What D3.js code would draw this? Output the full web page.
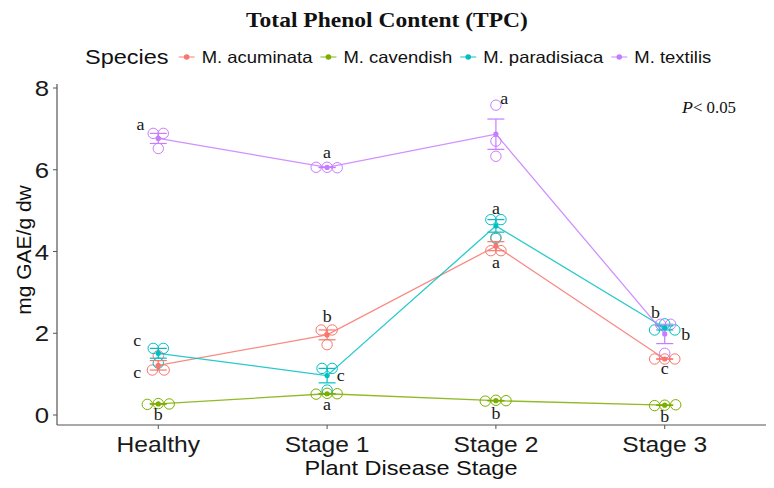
<!DOCTYPE html>
<html>
<head>
<meta charset="utf-8">
<script src="https://d3js.org/d3.v7.min.js"></script>
<style>
  body { margin: 0; background: #fff; }
</style>
</head>
<body>
<div id="chart"></div>
<script>

// categories
var stages = ["Healthy", "Stage 1", "Stage 2", "Stage 3"];
var species = ["M. acuminata", "M. cavendish", "M. paradisiaca", "M. textilis"];
var colors = ["#F8766D", "#7CAE00", "#00BFC4", "#C77CFF"];

// three replicates per stage (mg GAE/g dw)
var acuminata   = [[1.10, 1.10, 1.45], [2.08, 2.08, 1.72], [4.02, 4.02, 4.35], [1.37, 1.37, 1.37]];
var cavendish   = [[0.26, 0.28, 0.27], [0.51, 0.53, 0.52], [0.34, 0.36, 0.35], [0.23, 0.24, 0.25]];
var paradisiaca = [[1.63, 1.63, 1.27], [1.14, 1.14, 0.61], [4.78, 4.78, 4.32], [2.08, 2.08, 2.23]];
var textilis    = [[6.89, 6.89, 6.52], [6.06, 6.06, 6.05], [7.58, 6.70, 6.33], [2.22, 2.22, 1.51]];

// horizontal jitter of the replicate circles (fraction of a category step)
var acuminataJit   = [[-0.035, 0.035, 0], [-0.035, 0.03, 0], [-0.03, 0.03, 0], [-0.06, 0, 0.06]];
var cavendishJit   = [[-0.065, 0, 0.065], [-0.065, 0, 0.06], [-0.063, 0, 0.06], [-0.06, 0, 0.065]];
var paradisiacaJit = [[-0.03, 0.03, 0], [-0.03, 0.03, 0], [-0.03, 0.03, 0], [-0.06, 0.06, 0]];
var textilisJit    = [[-0.03, 0.03, 0], [-0.065, 0, 0.06], [0, 0, 0], [-0.025, 0.035, 0]];

// significance letters: species, stage, letter, y, x-nudge
var letters = [
  ["M. textilis", "Healthy", "a", 7.09, -0.105],
  ["M. paradisiaca", "Healthy", "c", 1.81, -0.125],
  ["M. acuminata", "Healthy", "c", 1.03, -0.125],
  ["M. cavendish", "Healthy", "b", 0.00, 0],
  ["M. textilis", "Stage 1", "a", 6.41, 0],
  ["M. acuminata", "Stage 1", "b", 2.40, 0],
  ["M. paradisiaca", "Stage 1", "c", 0.95, 0.08],
  ["M. cavendish", "Stage 1", "a", 0.24, 0],
  ["M. textilis", "Stage 2", "a", 7.74, 0.05],
  ["M. paradisiaca", "Stage 2", "a", 5.05, 0],
  ["M. acuminata", "Stage 2", "a", 3.72, 0],
  ["M. cavendish", "Stage 2", "b", 0.02, 0],
  ["M. paradisiaca", "Stage 3", "b", 2.50, -0.055],
  ["M. textilis", "Stage 3", "b", 1.96, 0.124],
  ["M. acuminata", "Stage 3", "c", 1.12, 0],
  ["M. cavendish", "Stage 3", "b", -0.04, 0]
];

var yTicks = [0, 2, 4, 6, 8];

var replicates = [acuminata, cavendish, paradisiaca, textilis];
var jitters = [acuminataJit, cavendishJit, paradisiacaJit, textilisJit];

var width = 774, height = 488;
var sx = 1.12; // the original is a bit stretched sideways
var sans = "Liberation Sans, Arial, sans-serif";
var serif = "Liberation Serif, Times New Roman, serif";

var svg = d3.select("#chart").append("svg")
    .attr("width", width).attr("height", height)
    .style("font-family", sans);

var x = d3.scalePoint().domain(stages).range([57, 766]).padding(0.6);
var y = d3.scaleLinear().domain([0, 8]).range([415, 88]);
var step = x.step();
var color = d3.scaleOrdinal().domain(species).range(colors);

function stext(g, px, py, str) {
  return g.append("text")
    .attr("transform", "translate(" + px + "," + py + ") scale(" + sx + ",1)")
    .text(str);
}

// summary per species & stage
var series = species.map(function(sp, i) {
  return {
    name: sp,
    values: stages.map(function(st, j) {
      var v = replicates[i][j];
      var m = d3.mean(v);
      var se = d3.deviation(v) / Math.sqrt(v.length);
      return { stage: st, mean: m, se: se,
        reps: v.map(function(r, k) { return { v: r, dx: jitters[i][j][k] }; }) };
    })
  };
});

// axes
var panelTop = 84, panelBottom = 425;
svg.append("line").attr("x1", 57).attr("x2", 57).attr("y1", panelTop).attr("y2", panelBottom)
  .attr("stroke", "#555").attr("stroke-width", 1.2);
svg.append("line").attr("x1", 57).attr("x2", 766).attr("y1", panelBottom).attr("y2", panelBottom)
  .attr("stroke", "#555").attr("stroke-width", 1.2);

var yt = svg.append("g");
yTicks.forEach(function(t) {
  yt.append("line").attr("x1", 53).attr("x2", 57).attr("y1", y(t)).attr("y2", y(t))
    .attr("stroke", "#555");
  stext(yt, 49, y(t), t).attr("text-anchor", "end").attr("dominant-baseline", "central")
    .attr("font-size", 23).attr("fill", "#1a1a1a");
});

var xt = svg.append("g");
stages.forEach(function(s) {
  xt.append("line").attr("x1", x(s)).attr("x2", x(s)).attr("y1", panelBottom).attr("y2", panelBottom + 4)
    .attr("stroke", "#555");
  stext(xt, x(s), 452, s).attr("text-anchor", "middle")
    .attr("font-size", 22).attr("fill", "#1a1a1a");
});

stext(svg, 411, 475, "Plant Disease Stage").attr("text-anchor", "middle")
  .attr("font-size", 21).attr("fill", "#111");

svg.append("text")
  .attr("transform", "translate(31,250) rotate(-90)")
  .attr("text-anchor", "middle")
  .attr("font-size", 21).attr("fill", "#111")
  .text("mg GAE/g dw");

// replicate circles
var plot = svg.append("g");
series.forEach(function(s) {
  s.values.forEach(function(d) {
    plot.selectAll(null).data(d.reps).enter().append("circle")
      .attr("cx", function(r) { return x(d.stage) + r.dx * step; })
      .attr("cy", function(r) { return y(r.v); })
      .attr("r", 5.2)
      .attr("fill", "none")
      .attr("stroke", color(s.name))
      .attr("stroke-width", 1);
  });
});

// lines joining means
var line = d3.line().x(function(d) { return x(d.stage); }).y(function(d) { return y(d.mean); });
series.forEach(function(s) {
  plot.append("path").datum(s.values).attr("d", line)
    .attr("fill", "none").attr("stroke", color(s.name)).attr("stroke-width", 1.3)
    .attr("stroke-opacity", 0.85);
});

// error bars (mean +/- SE)
series.forEach(function(s) {
  s.values.forEach(function(d) {
    var cx = x(d.stage), lo = y(d.mean - d.se), hi = y(d.mean + d.se), c = color(s.name);
    plot.append("line").attr("x1", cx).attr("x2", cx).attr("y1", lo).attr("y2", hi)
      .attr("stroke", c).attr("stroke-width", 1.2);
    [lo, hi].forEach(function(yy) {
      plot.append("line").attr("x1", cx - 8.5).attr("x2", cx + 8.5).attr("y1", yy).attr("y2", yy)
        .attr("stroke", c).attr("stroke-width", 1.2);
    });
  });
});

// mean dots
series.forEach(function(s) {
  plot.selectAll(null).data(s.values).enter().append("circle")
    .attr("cx", function(d) { return x(d.stage); })
    .attr("cy", function(d) { return y(d.mean); })
    .attr("r", 2.6)
    .attr("fill", color(s.name));
});

// letters
var lg = svg.append("g");
letters.forEach(function(l) {
  stext(lg, x(l[1]) + l[4] * step, y(l[3]), l[2])
    .attr("text-anchor", "middle").attr("dominant-baseline", "central")
    .attr("font-family", serif)
    .attr("font-size", 16).attr("fill", "#1a1a1a");
});

// title
stext(svg, 387, 27, "Total Phenol Content (TPC)").attr("text-anchor", "middle")
  .attr("font-family", serif).attr("font-weight", "bold")
  .attr("font-size", 21).attr("fill", "#111");

// P value note
var pv = svg.append("text")
  .attr("transform", "translate(682,113) scale(1.05,1)")
  .attr("font-family", serif).attr("font-size", 16).attr("fill", "#111");
pv.append("tspan").attr("font-style", "italic").attr("font-size", 17).text("P");
pv.append("tspan").text("< 0.05");

// legend
var leg = svg.append("g");
var lx = 85, ly = 57;
var t0 = stext(leg, lx, ly, "Species").attr("dominant-baseline", "central")
  .attr("font-size", 21).attr("fill", "#111");
lx += t0.node().getComputedTextLength() * sx + 10;
species.forEach(function(sp) {
  var c = color(sp);
  leg.append("line").attr("x1", lx).attr("x2", lx + 16).attr("y1", ly).attr("y2", ly)
    .attr("stroke", c).attr("stroke-width", 1.3).attr("opacity", 0.7);
  leg.append("circle").attr("cx", lx + 8).attr("cy", ly).attr("r", 2.8).attr("fill", c);
  lx += 23;
  var t = stext(leg, lx, ly, sp).attr("dominant-baseline", "central")
    .attr("font-size", 16.5).attr("fill", "#111");
  lx += t.node().getComputedTextLength() * sx + 8;
});

</script>
</body>
</html>
